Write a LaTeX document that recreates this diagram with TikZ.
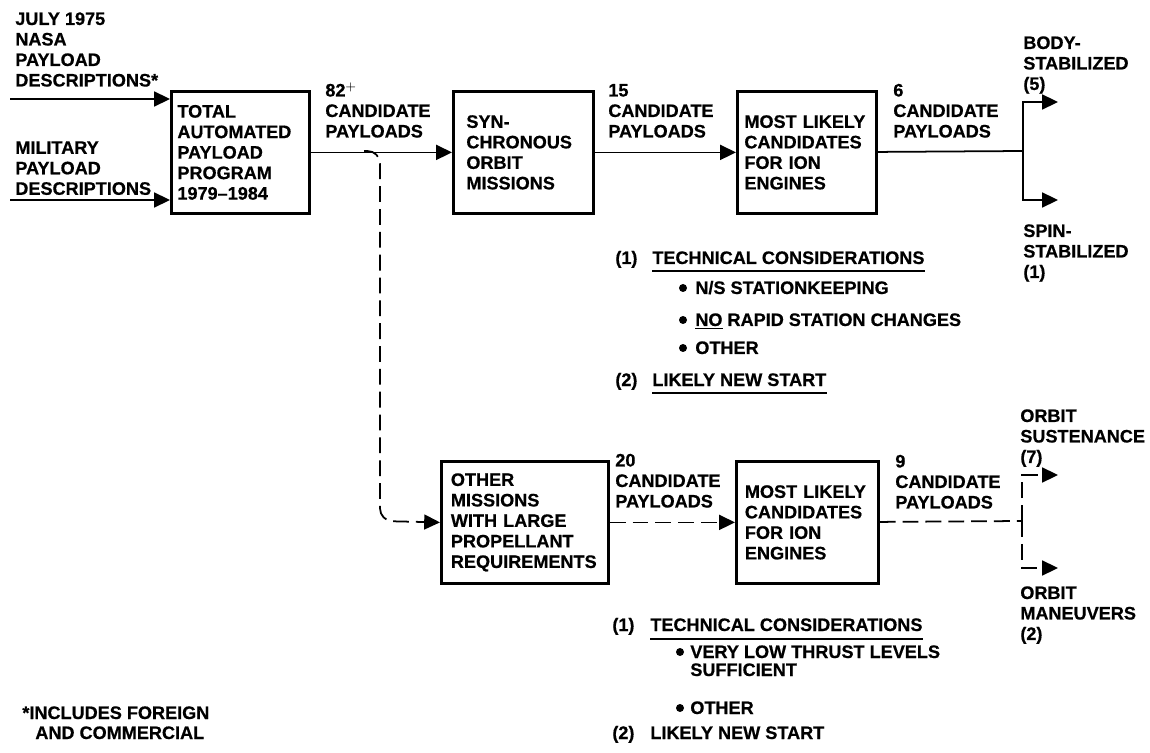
\documentclass[tikz,border=0pt]{standalone}
\usepackage{fontspec}
\setmainfont[FakeBold=0.6]{Liberation Sans}
\usetikzlibrary{arrows.meta}

\begin{document}
\begin{tikzpicture}[x=0.02cm,y=-0.02cm,
  font=\fontsize{10.3}{11.67}\selectfont\bfseries,
  box/.style={draw,line width=1.6pt,anchor=north west,align=left,inner ysep=0pt,minimum height=2.44cm},
  lbl/.style={inner sep=0pt,align=left},
  txt/.style={inner sep=0pt,anchor=base west},
  dot/.style={circle,fill,inner sep=0pt,minimum size=0.16cm},
  conn/.style={line width=1pt},
  arr/.style={line width=1pt,-{Triangle[length=9pt,width=8.5pt]}},
  dsh/.style={dash pattern=on 9pt off 4pt}]
\useasboundingbox (0,0) rectangle (1150,753);

\node[box,text width=2.52cm,inner xsep=0.12cm] (total) at (170,90) {TOTAL\\AUTOMATED\\PAYLOAD\\PROGRAM\\1979--1984};
\node[box,text width=2.28cm,inner xsep=0.26cm] (syn) at (452,90) {SYN-\\CHRONOUS\\ORBIT\\MISSIONS};
\node[box,text width=2.5cm,inner xsep=0.14cm] (ml1) at (736,90) {MOST LIKELY\\CANDIDATES\\FOR ION\\ENGINES};
\node[box,text width=2.96cm,inner xsep=0.19cm] (other) at (440,460) {OTHER\\MISSIONS\\WITH LARGE\\PROPELLANT\\REQUIREMENTS};
\node[box,text width=2.5cm,inner xsep=0.17cm] (ml2) at (735,460) {MOST LIKELY\\CANDIDATES\\FOR ION\\ENGINES};

\node[lbl,anchor=north west] (nasa) at (15,12) {JULY 1975\\NASA\\PAYLOAD\\DESCRIPTIONS*};
\node[lbl,anchor=north west] (mil) at (15,141) {MILITARY\\PAYLOAD\\DESCRIPTIONS};
\coordinate (nasain) at (10,99);
\coordinate (milin) at (10,200);
\draw[arr] (nasain) -- (nasain -| total.west);
\draw[arr] (milin) -- (milin -| total.west);

\node[lbl,anchor=south west] (c82) at (325,138) {82$^+$\\CANDIDATE\\PAYLOADS};
\node[lbl,anchor=south west] (c15) at (608,138) {15\\CANDIDATE\\PAYLOADS};
\node[lbl,anchor=south west] (c6) at (893,138) {6\\CANDIDATE\\PAYLOADS};
\draw[arr] (total) -- (syn);
\draw[arr] (syn) -- (ml1);

\coordinate (fk1) at (1023,151);
\coordinate (bodyend) at (1058,102);
\coordinate (spinend) at (1058,200);
\draw[conn] (ml1) -- (fk1);
\draw[arr] (fk1) |- (bodyend);
\draw[arr] (fk1) |- (spinend);
\node[lbl,anchor=north west] (body) at (1023,36) {BODY-\\STABILIZED\\(5)};
\node[lbl,anchor=north west] (spin) at (1023,224) {SPIN-\\STABILIZED\\(1)};

\coordinate (brin) at (364,151);
\coordinate (brtop) at (380,151);
\coordinate (brbot) at (380,521);
\draw[arr,dsh,rounded corners=0.25cm] (brin) -- (brtop) -- (brbot) -- (other.west);

\node[lbl,anchor=south west] (c20) at (615,508) {20\\CANDIDATE\\PAYLOADS};
\node[lbl,anchor=south west] (c9) at (895,509) {9\\CANDIDATE\\PAYLOADS};
\draw[arr,dsh] (other) -- (ml2);

\coordinate (fk2) at (1022,521);
\coordinate (susend) at (1058,475);
\coordinate (manend) at (1058,568);
\draw[conn,dsh] (ml2) -- (fk2);
\draw[arr,dsh] (fk2) |- (susend);
\draw[arr,dsh] (fk2) |- (manend);
\node[lbl,anchor=north west] (sus) at (1020,409) {ORBIT\\SUSTENANCE\\(7)};
\node[lbl,anchor=north west] (man) at (1020,586) {ORBIT\\MANEUVERS\\(2)};

\node[txt] (n1a) at (615,264) {(1)};
\node[txt] (tc1) at (652,264) {TECHNICAL CONSIDERATIONS};
\draw[conn] ([yshift=-0.14cm]tc1.base west) -- ([yshift=-0.14cm]tc1.base east);
\node[dot] (d1a) at (683,288) {};
\node[txt] (ns) at (695,294) {N/S STATIONKEEPING};
\node[dot] (d1b) at (683,320) {};
\node[txt] (norapid) at (695,326) {\underline{NO} RAPID STATION CHANGES};
\node[dot] (d1c) at (683,348) {};
\node[txt] (oth1) at (695,354) {OTHER};
\node[txt] (n2a) at (615,386) {(2)};
\node[txt] (ls1) at (652,386) {LIKELY NEW START};
\draw[conn] ([yshift=-0.14cm]ls1.base west) -- ([yshift=-0.14cm]ls1.base east);

\node[txt] (n1b) at (612,631) {(1)};
\node[txt] (tc2) at (650,631) {TECHNICAL CONSIDERATIONS};
\draw[conn] ([yshift=-0.16cm]tc2.base west) -- ([yshift=-0.16cm]tc2.base east);
\node[dot] (d2a) at (680,652) {};
\node[txt] (vlt) at (690,658) {VERY LOW THRUST LEVELS};
\node[txt] (suf) at (690,676) {SUFFICIENT};
\node[dot] (d2b) at (680,708) {};
\node[txt] (oth2) at (690,714) {OTHER};
\node[txt] (n2b) at (612,739) {(2)};
\node[txt] (ls2) at (650,739) {LIKELY NEW START};

\node[txt] (foot1) at (22,719) {*INCLUDES FOREIGN};
\node[txt] (foot2) at (35,739) {AND COMMERCIAL};
\end{tikzpicture}
\end{document}
